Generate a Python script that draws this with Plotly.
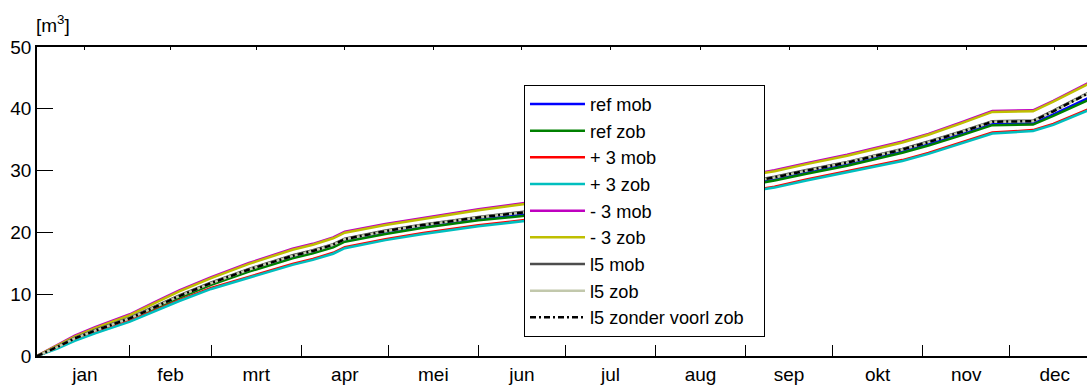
import plotly.graph_objects as go

# Cumulative volume [m3] over the year, read at selected days (day 0 = start of year)
days = [0, 7, 13, 20, 32, 40, 49, 60, 73, 88, 95, 102, 106, 120, 133, 152, 168,
        182, 200, 213, 230, 244, 254, 265, 279, 298, 307, 318, 329, 343, 350, 362, 366]

ref_mob = [0, 1.40, 2.78, 4.02, 6.00, 7.68, 9.55, 11.62, 13.80, 15.95, 16.75, 17.75, 18.65,
           19.93, 20.93, 22.12, 22.90, 23.70, 24.80, 25.60, 26.70, 27.80, 28.60, 29.70,
           31.00, 33.10, 34.30, 35.90, 37.60, 37.65, 39.10, 41.75, 42.60]
ref_zob = [0, 1.35, 2.70, 3.95, 5.90, 7.55, 9.40, 11.50, 13.65, 15.80, 16.60, 17.60, 18.50,
           19.75, 20.75, 21.95, 22.70, 23.50, 24.60, 25.40, 26.50, 27.60, 28.40, 29.50,
           30.80, 32.90, 34.05, 35.65, 37.35, 37.45, 38.85, 41.40, 42.25]
p3_mob = [0, 1.35, 2.60, 3.80, 5.70, 7.25, 9.05, 11.00, 12.85, 14.90, 15.70, 16.70, 17.60,
          18.90, 19.90, 21.15, 22.00, 22.75, 23.80, 24.55, 25.60, 26.65, 27.40, 28.55,
          29.85, 31.70, 32.85, 34.45, 36.15, 36.55, 37.55, 39.90, 40.70]
p3_zob = [0, 1.20, 2.45, 3.65, 5.55, 7.10, 8.90, 10.85, 12.70, 14.75, 15.55, 16.55, 17.45,
          18.75, 19.75, 21.00, 21.85, 22.60, 23.65, 24.40, 25.45, 26.50, 27.25, 28.40,
          29.70, 31.55, 32.70, 34.30, 36.00, 36.40, 37.40, 39.75, 40.55]
m3_mob = [0, 1.75, 3.30, 4.65, 6.75, 8.60, 10.60, 12.75, 15.05, 17.35, 18.15, 19.20, 20.10,
          21.35, 22.35, 23.75, 24.75, 25.45, 26.45, 27.15, 28.20, 29.25, 30.05, 31.20,
          32.55, 34.70, 35.95, 37.75, 39.65, 39.75, 41.30, 44.15, 45.05]
m3_zob = [0, 1.65, 3.15, 4.50, 6.60, 8.45, 10.45, 12.60, 14.90, 17.20, 18.00, 19.05, 19.95,
          21.20, 22.20, 23.60, 24.60, 25.30, 26.30, 27.00, 28.05, 29.10, 29.90, 31.05,
          32.40, 34.55, 35.80, 37.60, 39.50, 39.60, 41.15, 44.00, 44.90]
l5_mob = [0, 1.50, 2.95, 4.20, 6.20, 7.90, 9.80, 11.90, 14.10, 16.30, 17.10, 18.10, 19.00,
          20.30, 21.30, 22.50, 23.30, 24.10, 25.20, 26.00, 27.10, 28.20, 29.00, 30.10,
          31.40, 33.50, 34.70, 36.30, 38.00, 38.10, 39.70, 42.60, 43.50]
l5_zob = [0, 1.45, 2.85, 4.10, 6.10, 7.80, 9.70, 11.80, 14.00, 16.20, 17.00, 18.00, 18.90,
          20.20, 21.20, 22.40, 23.20, 24.00, 25.10, 25.90, 27.00, 28.10, 28.90, 30.00,
          31.30, 33.40, 34.60, 36.20, 37.90, 38.00, 39.60, 42.50, 43.40]
l5_zonder = [0, 1.45, 2.85, 4.10, 6.10, 7.80, 9.70, 11.80, 14.00, 16.20, 17.00, 18.00, 18.90,
             20.20, 21.20, 22.40, 23.20, 24.00, 25.10, 25.90, 27.00, 28.10, 28.90, 30.00,
             31.30, 33.40, 34.60, 36.20, 37.90, 38.00, 39.60, 42.50, 43.40]

# Calendar: first day of each month (day of year) and the month names
month_starts = [1, 32, 60, 91, 121, 152, 182, 213, 244, 274, 305, 335, 366]
month_names = ["jan", "feb", "mrt", "apr", "mei", "jun", "jul", "aug", "sep", "okt", "nov", "dec"]
y_ticks = [0, 10, 20, 30, 40, 50]

series = [
    ("ref mob", ref_mob, "#0000FF", "solid"),
    ("ref zob", ref_zob, "#008000", "solid"),
    ("+ 3 mob", p3_mob, "#FF0000", "solid"),
    ("+ 3 zob", p3_zob, "#00BFBF", "solid"),
    ("- 3 mob", m3_mob, "#BF00BF", "solid"),
    ("- 3 zob", m3_zob, "#BFBF00", "solid"),
    ("l5 mob", l5_mob, "#4D4D4D", "solid"),
    ("l5 zob", l5_zob, "#C2C8AC", "solid"),
    ("l5 zonder voorl zob", l5_zonder, "#000000", "6px,3px,2px,3px"),
]

FONT = "Liberation Sans, Arial, sans-serif"
TICK_SIZE = 19
LEGEND_SIZE = 18.2
LEGEND_PAD = "&nbsp;" * 3   # extra room on the right of the legend box

fig = go.Figure()
for name, vals, color, dash in series:
    fig.add_trace(go.Scatter(
        x=days, y=vals, mode="lines", name=name + LEGEND_PAD,
        line=dict(color=color, width=2.5, dash=dash),
    ))

month_mids = [(a + b) / 2 for a, b in zip(month_starts[:-1], month_starts[1:])]

# invisible trace to activate the top axis carrying the small mid-month ticks
fig.add_trace(go.Scatter(x=[month_mids[0]], y=[0], xaxis="x2", mode="lines",
                         showlegend=False, hoverinfo="skip", line=dict(width=0)))

x_range = [0, 361.6]

fig.update_layout(
    width=1087, height=385,
    margin=dict(l=37, r=0, t=47, b=26),
    paper_bgcolor="white", plot_bgcolor="white",
    font=dict(family=FONT, size=TICK_SIZE, color="black"),
    showlegend=True,
    legend=dict(
        x=0.4638, y=0.878, xanchor="left", yanchor="top",
        bgcolor="white", bordercolor="black", borderwidth=1,
        font=dict(family=FONT, size=LEGEND_SIZE, color="black"),
        itemwidth=55, traceorder="normal",
    ),
    xaxis=dict(
        range=x_range, showgrid=False, zeroline=False,
        showline=True, linecolor="black", linewidth=1.5, mirror=True,
        tickmode="array", tickvals=month_mids, ticktext=month_names,
        ticks="", tickfont=dict(family=FONT, size=TICK_SIZE, color="black"),
        minor=dict(tickmode="array", tickvals=month_starts[1:-1], ticks="inside",
                   ticklen=11, tickwidth=1, tickcolor="black", showgrid=False),
    ),
    xaxis2=dict(
        range=x_range, overlaying="x", side="top", showgrid=False, zeroline=False,
        showline=False, tickmode="array", tickvals=month_mids, ticks="inside",
        ticklen=3, tickwidth=1, tickcolor="black", showticklabels=False,
    ),
    yaxis=dict(
        range=[0, 50], showgrid=False, zeroline=False,
        showline=True, linecolor="black", linewidth=1.5, mirror=False,
        tickmode="array", tickvals=y_ticks, ticks="inside", ticklen=16,
        tickwidth=1, tickcolor="black",
        tickfont=dict(family=FONT, size=TICK_SIZE, color="black"),
    ),
    annotations=[dict(
        text="[m<sup>3</sup>]", xref="paper", yref="paper", x=0, y=1,
        xanchor="left", yanchor="bottom", xshift=-3, yshift=9, showarrow=False,
        font=dict(family=FONT, size=TICK_SIZE, color="black"),
    )],
)

fig.write_html("out.html")
